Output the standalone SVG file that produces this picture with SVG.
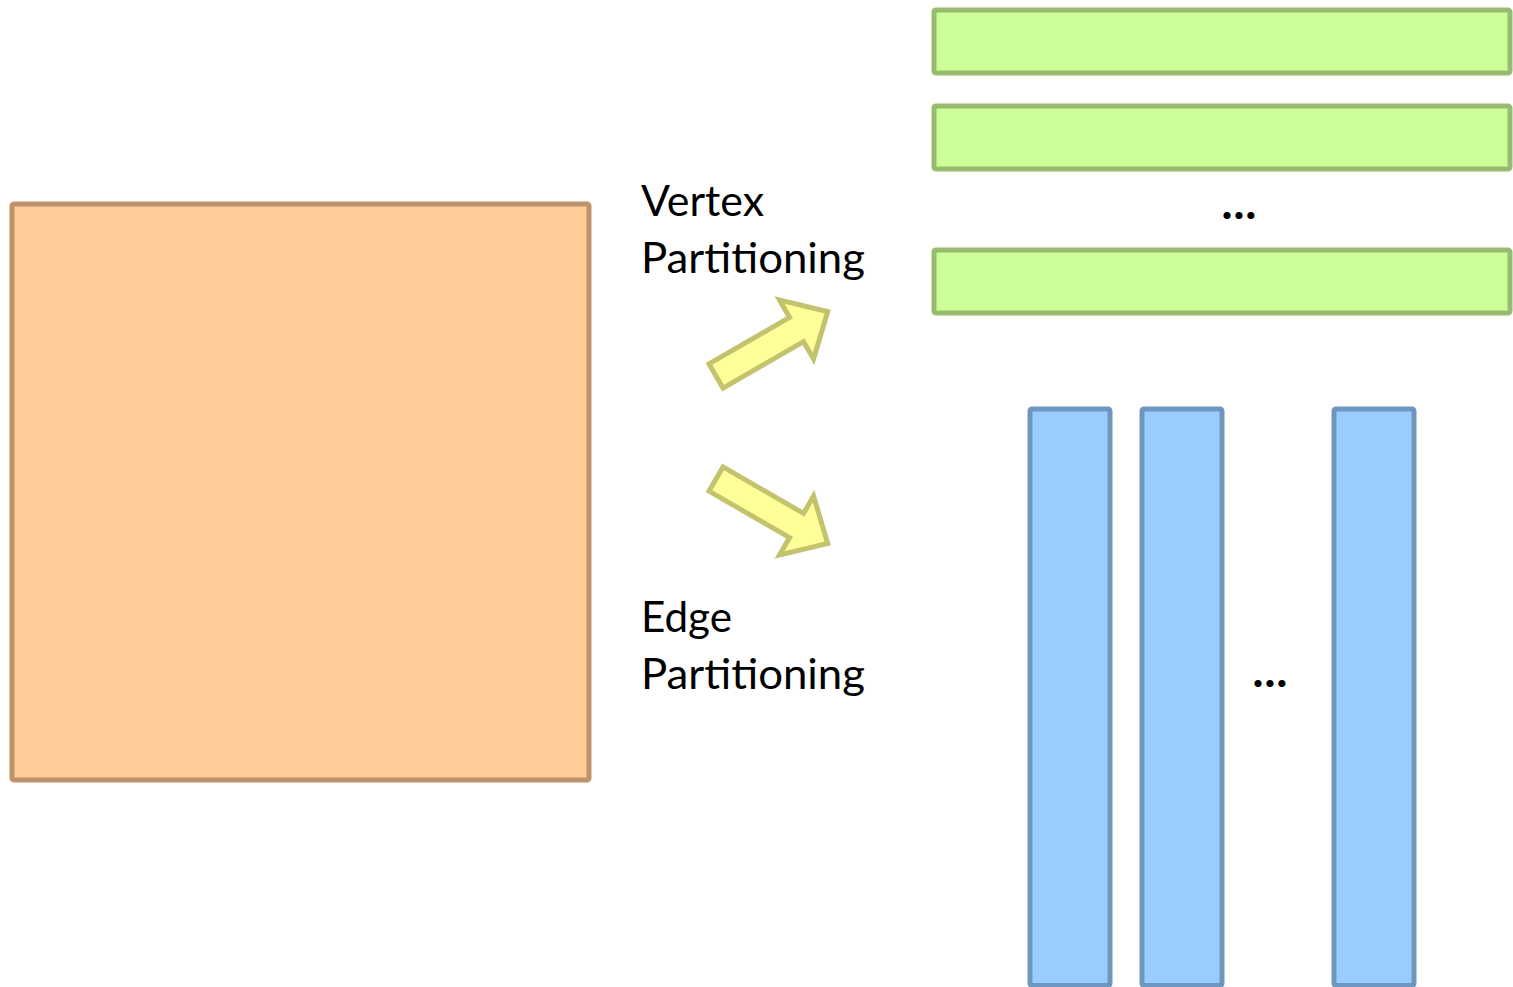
<svg xmlns="http://www.w3.org/2000/svg" width="1513" height="987" viewBox="0 0 1513 987">
<style>
.lbl{font-family:Lato,"Open Sans","Liberation Sans",sans-serif;font-size:43px;fill:#000}
.dots{font-family:Lato,"Liberation Sans",sans-serif;font-size:44px;font-weight:900;fill:#000}
.orange{fill:#FFCC99;stroke:#BF9369;stroke-width:5}
.green{fill:#CCFF99;stroke:#98BB6E;stroke-width:5}
.blue{fill:#99CCFF;stroke:#6E97BF;stroke-width:5}
.arrow{fill:#FFFF99;stroke:#C3C36E;stroke-width:5;stroke-linejoin:miter}
</style>
<rect width="1513" height="987" fill="#fff"/>
<g id="matrix"><rect class="orange" x="12" y="204" width="577" height="576" rx="2"/></g>
<g id="vertex-parts">
<rect class="green" x="934" y="10" width="576" height="63" rx="2"/>
<rect class="green" x="934" y="106" width="576" height="63" rx="2"/>
<text class="dots" x="1239" y="219" text-anchor="middle">…</text>
<rect class="green" x="934" y="250" width="576" height="63" rx="2"/>
</g>
<g id="edge-parts">
<rect class="blue" x="1030" y="409" width="80" height="576.5" rx="2"/>
<rect class="blue" x="1142" y="409" width="80" height="576.5" rx="2"/>
<text class="dots" x="1270" y="687" text-anchor="middle">…</text>
<rect class="blue" x="1334" y="409" width="80" height="576.5" rx="2"/>
</g>
<g id="labels">
<text class="lbl" x="641" y="216" textLength="123" lengthAdjust="spacingAndGlyphs">Vertex</text>
<text class="lbl" x="641" y="273" textLength="224" lengthAdjust="spacingAndGlyphs">Partitioning</text>
<text class="lbl" x="641" y="632" textLength="91" lengthAdjust="spacingAndGlyphs">Edge</text>
<text class="lbl" x="641" y="689" textLength="224" lengthAdjust="spacingAndGlyphs">Partitioning</text>
</g>
<g id="connectors">
<polygon class="arrow" transform="translate(716,376) rotate(-30)" points="0,-14 93,-14 93,-34 129,0 93,34 93,14 0,14"/>
<polygon class="arrow" transform="translate(716,479) rotate(30)" points="0,-14 93,-14 93,-34 129,0 93,34 93,14 0,14"/>
</g>
</svg>
